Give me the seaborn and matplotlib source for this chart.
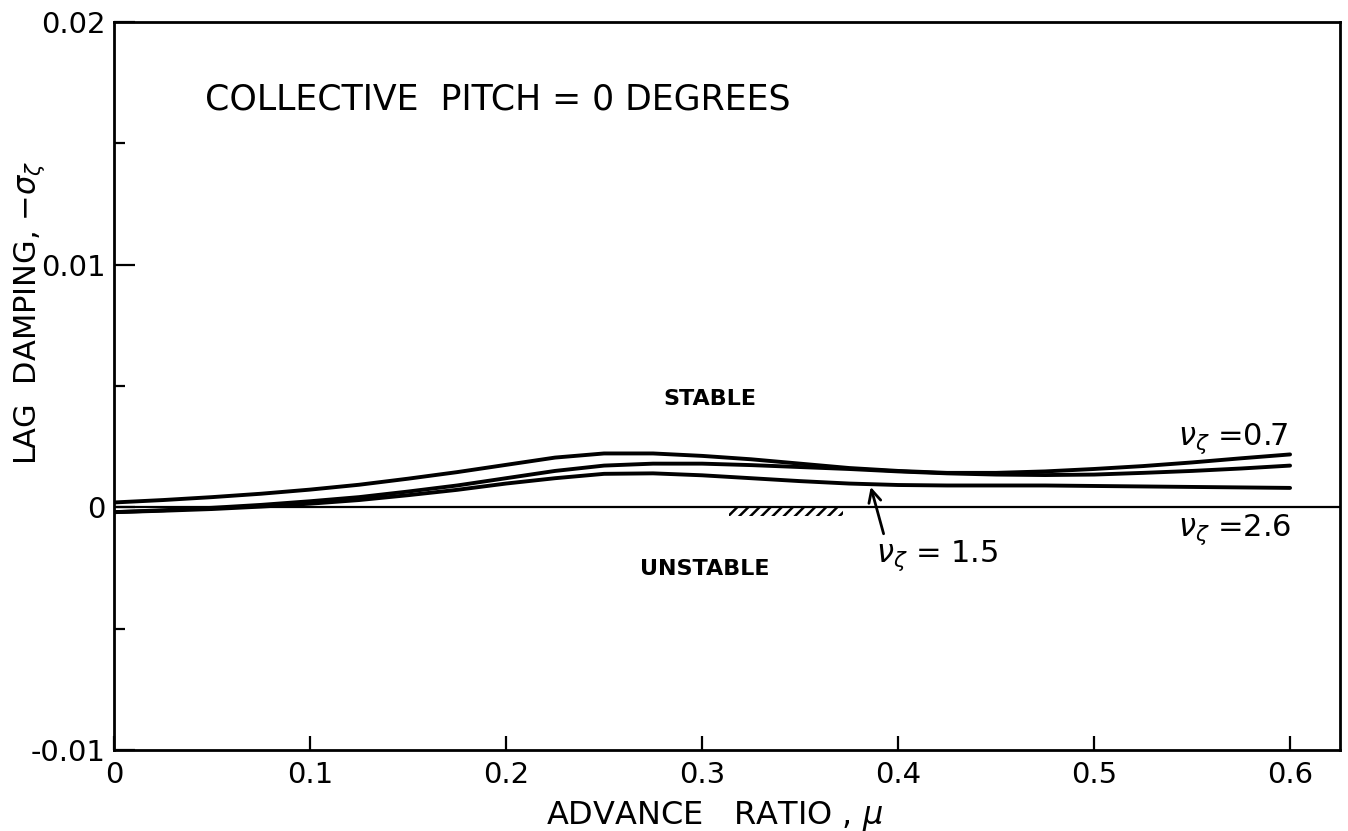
import numpy as np
import pandas as pd
import matplotlib
matplotlib.use("Agg")
import matplotlib.pyplot as plt
import seaborn as sns
from matplotlib.ticker import FixedLocator

# ---- data ----
mu = [0.0, 0.025, 0.05, 0.075, 0.1, 0.125, 0.15, 0.175, 0.2, 0.225, 0.25, 0.275,
      0.3, 0.325, 0.35, 0.375, 0.4, 0.425, 0.45, 0.475, 0.5, 0.525, 0.55, 0.575, 0.6]
# lag damping, -sigma (x 1e-3)
damp_upper = [0.20, 0.30, 0.42, 0.56, 0.73, 0.93, 1.18, 1.45, 1.75, 2.05, 2.22, 2.22,
              2.12, 1.98, 1.80, 1.62, 1.50, 1.42, 1.42, 1.48, 1.58, 1.70, 1.85, 2.02, 2.18]
damp_middle = [-0.20, -0.12, -0.02, 0.10, 0.25, 0.42, 0.65, 0.90, 1.20, 1.50, 1.72, 1.80,
               1.80, 1.74, 1.66, 1.58, 1.48, 1.40, 1.35, 1.33, 1.35, 1.42, 1.50, 1.60, 1.72]
damp_lower = [-0.20, -0.14, -0.07, 0.03, 0.15, 0.30, 0.50, 0.72, 0.98, 1.20, 1.38, 1.40,
              1.32, 1.20, 1.08, 0.98, 0.92, 0.90, 0.90, 0.90, 0.88, 0.86, 0.84, 0.82, 0.80]
curve_names = ["upper", "middle", "lower"]

x_ticks = [0.0, 0.1, 0.2, 0.3, 0.4, 0.5, 0.6]
x_ticklabels = ["0", "0.1", "0.2", "0.3", "0.4", "0.5", "0.6"]
y_ticks = [-0.01, 0.0, 0.01, 0.02]
y_ticklabels = ["-0.01", "0", "0.01", "0.02"]
y_minor = [-0.005, 0.005, 0.015]

hatch_mu = [0.314, 0.372]

rows = []
for name, vals in zip(curve_names, [damp_upper, damp_middle, damp_lower]):
    for m, v in zip(mu, vals):
        rows.append({"mu": m, "damping": v * 1e-3, "curve": name})
df = pd.DataFrame(rows)

sns.set_theme(style="white")
plt.rcParams["font.family"] = ["DejaVu Sans"]
plt.rcParams["mathtext.fontset"] = "dejavusans"
plt.rcParams["hatch.linewidth"] = 1.8
for k in ["text.color", "axes.labelcolor", "xtick.color", "ytick.color"]:
    plt.rcParams[k] = "black"

fig = plt.figure(figsize=(13.48, 8.31), dpi=100)
ax = fig.add_axes([0.0846, 0.0975, 0.9095, 0.876])

sns.lineplot(data=df, x="mu", y="damping", hue="curve", palette=["black"] * 3,
             estimator=None, legend=False, linewidth=2.8, ax=ax)
ax.axhline(0, color="black", lw=1.6, zorder=1)

ax.fill_between(hatch_mu, -0.00035, 0, facecolor="none", edgecolor="black",
                hatch="///", linewidth=0)

ax.set_xlim(0, 0.6255)
ax.set_ylim(-0.01, 0.02)
ax.xaxis.set_major_locator(FixedLocator(x_ticks))
ax.set_xticklabels(x_ticklabels)
ax.yaxis.set_major_locator(FixedLocator(y_ticks))
ax.set_yticklabels(y_ticklabels)
ax.yaxis.set_minor_locator(FixedLocator(y_minor))
ax.tick_params(axis="x", which="major", direction="in", length=10, width=1.6,
               labelsize=21, pad=8, bottom=True)
ax.tick_params(axis="y", which="major", direction="in", length=15, width=1.6,
               labelsize=21, pad=6, left=True)
ax.tick_params(axis="y", which="minor", direction="in", length=8, width=1.6, left=True)

for s in ax.spines.values():
    s.set_color("black")
    s.set_linewidth(2.0)

ax.set_xlabel(r"ADVANCE   RATIO , $\mu$", fontsize=23, labelpad=6)
ax.xaxis.set_label_coords(0.49, -0.067)
ax.set_ylabel(r"LAG  DAMPING, $-\sigma_\zeta$", fontsize=22)
ax.yaxis.set_label_coords(-0.055, 0.60)

ax.text(0.074, 0.893, "COLLECTIVE  PITCH = 0 DEGREES", transform=ax.transAxes,
        fontsize=25, ha="left", va="center")
ax.text(0.304, 0.00445, "STABLE", fontsize=16, fontweight="bold", ha="center", va="center")
ax.text(0.3015, -0.00256, "UNSTABLE", fontsize=16, fontweight="bold", ha="center", va="center")
ax.text(0.543, 0.0028, r"$\nu_\zeta$ =0.7", fontsize=22, ha="left", va="center")
ax.text(0.543, -0.00092, r"$\nu_\zeta$ =2.6", fontsize=22, ha="left", va="center")
ax.text(0.389, -0.002, r"$\nu_\zeta$ = 1.5", fontsize=22, ha="left", va="center")
ax.annotate("", xy=(0.3857, 0.00095), xytext=(0.393, -0.0012),
            arrowprops=dict(arrowstyle="->", color="black", lw=2, mutation_scale=22))

fig.savefig("out.png", dpi=100)
